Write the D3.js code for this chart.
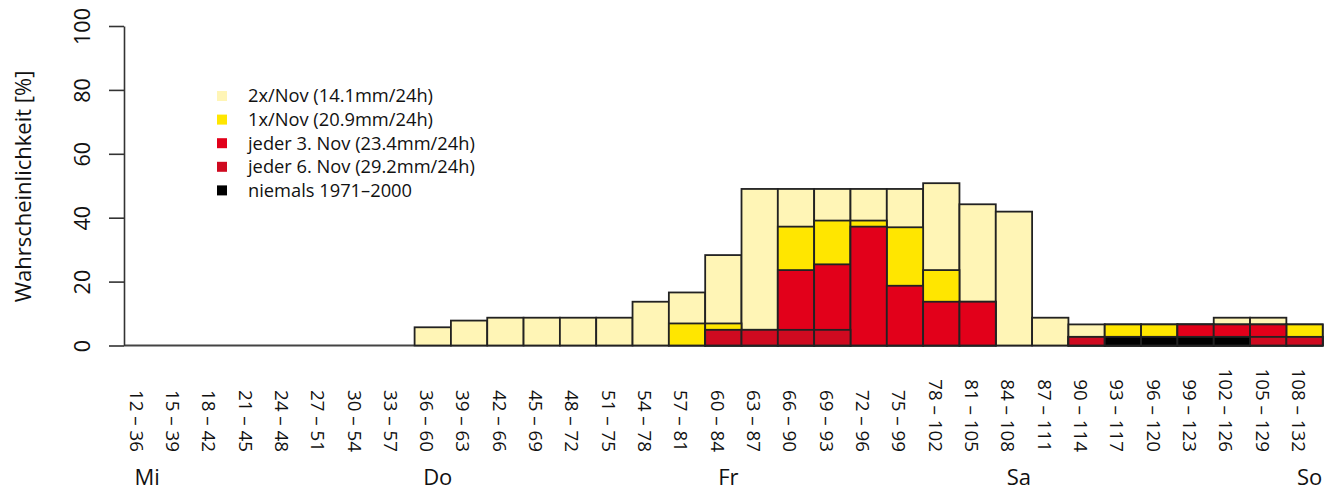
<!DOCTYPE html>
<html>
<head>
<meta charset="utf-8">
<script src="https://cdn.jsdelivr.net/npm/d3@7"></script>
<style>
  html, body { margin: 0; padding: 0; background: #fff; }
  svg { display: block; font-family: "Open Sans", Lato, sans-serif; }
</style>
</head>
<body>
<svg id="chart" width="1336" height="490"></svg>
<script>
// ---- data ----
const categories = ["12 – 36","15 – 39","18 – 42","21 – 45","24 – 48","27 – 51","30 – 54","33 – 57",
  "36 – 60","39 – 63","42 – 66","45 – 69","48 – 72","51 – 75","54 – 78","57 – 81",
  "60 – 84","63 – 87","66 – 90","69 – 93","72 – 96","75 – 99","78 – 102","81 – 105",
  "84 – 108","87 – 111","90 – 114","93 – 117","96 – 120","99 – 123","102 – 126","105 – 129","108 – 132"];

// probability [%] of exceeding each threshold (drawn overlapping, largest first)
const twoPerNov   = [0,0,0,0,0,0,0,0, 5.7,7.8,8.7,8.7,8.7,8.7,13.7,16.6, 28.3,49,49,49,49,49,50.8,44.2, 41.9,8.7,6.6,6.6,6.6,6.6,8.7,8.7,6.6];
const onePerNov   = [0,0,0,0,0,0,0,0, 0,0,0,0,0,0,0,6.9, 6.9,4.9,37.2,39.1,39.1,37.0,23.6,13.7, 0,0,2.7,6.6,6.6,6.6,6.6,6.6,6.6];
const every3rdNov = [0,0,0,0,0,0,0,0, 0,0,0,0,0,0,0,0, 4.9,4.9,23.6,25.4,37.2,18.7,13.7,13.7, 0,0,2.7,2.7,2.7,6.6,6.6,6.6,2.7];
const every6thNov = [0,0,0,0,0,0,0,0, 0,0,0,0,0,0,0,0, 4.9,4.9,4.9,4.9,0,0,0,0, 0,0,2.7,2.7,2.7,2.7,2.7,2.7,2.7];
const never7100   = [0,0,0,0,0,0,0,0, 0,0,0,0,0,0,0,0, 0,0,0,0,0,0,0,0, 0,0,0,2.7,2.7,2.7,2.7,0,0];

const seriesNames = ["2x/Nov (14.1mm/24h)", "1x/Nov (20.9mm/24h)", "jeder 3. Nov (23.4mm/24h)", "jeder 6. Nov (29.2mm/24h)", "niemals 1971–2000"];
const seriesColors = ["#fff5b6", "#ffe600", "#e2001a", "#cf0a20", "#000000"];
const yTicks = [0, 20, 40, 60, 80, 100];
const dayLabels = ["Mi", "Do", "Fr", "Sa", "So"];
const dayAt = ["12 – 36", "36 – 60", "60 – 84", "84 – 108", "108 – 132"];
const yTitle = "Wahrscheinlichkeit [%]";

const seriesValues = [twoPerNov, onePerNov, every3rdNov, every6thNov, never7100];

// ---- layout ----
const svg = d3.select("#chart");
const x = d3.scaleBand().domain(categories).range([124, 1322.7]).padding(0);
const y = d3.scaleLinear().domain([0, 100]).range([345.5, 26]);
const stroke = "#222";

// baseline (zero-height bars)
svg.append("line")
  .attr("x1", x.range()[0]).attr("x2", x.range()[1])
  .attr("y1", y(0)).attr("y2", y(0))
  .attr("stroke", "#444").attr("stroke-width", 2);

// bars
seriesValues.forEach((vals, si) => {
  svg.append("g").selectAll("rect")
    .data(categories.map((c, i) => ({ c, v: vals[i] })).filter(d => d.v > 0))
    .join("rect")
    .attr("x", d => x(d.c))
    .attr("width", x.bandwidth())
    .attr("y", d => y(d.v))
    .attr("height", d => y(0) - y(d.v))
    .attr("fill", seriesColors[si])
    .attr("stroke", stroke)
    .attr("stroke-width", 1.8);
});

// y axis
const yAxis = svg.append("g")
  .attr("transform", `translate(${x.range()[0]},0)`)
  .call(d3.axisLeft(y).tickValues(yTicks).tickSize(15).tickSizeOuter(0));
yAxis.select(".domain").attr("stroke", "#333").attr("stroke-width", 1.6);
yAxis.selectAll(".tick line").attr("stroke", "#333").attr("stroke-width", 1.6);
yAxis.selectAll(".tick text")
  .attr("x", 0).attr("y", -42).attr("dy", "0.36em")
  .attr("text-anchor", "middle")
  .attr("transform", "rotate(-90)")
  .attr("font-size", 21.5).attr("font-family", "'Open Sans', sans-serif")
  .attr("fill", "#111");

svg.append("text")
  .attr("transform", `translate(23,${(70 + 303) / 2}) rotate(-90)`)
  .attr("text-anchor", "middle").attr("dy", "0.35em")
  .attr("font-size", 22).attr("fill", "#111")
  .text(yTitle);

// x labels
svg.append("g").selectAll("text")
  .data(categories)
  .join("text")
  .attr("transform", d => `translate(${x(d) + x.bandwidth() / 2 - 6},452) rotate(90)`)
  .attr("text-anchor", "end").attr("dy", "0.35em")
  .attr("font-size", 18.8).attr("fill", "#111")
  .text(d => d);

// day labels
svg.append("g").selectAll("text")
  .data(dayLabels)
  .join("text")
  .attr("x", (d, i) => x(dayAt[i]) + x.bandwidth() / 2 + 5)
  .attr("y", 485)
  .attr("text-anchor", "middle")
  .attr("font-size", 22).attr("fill", "#111")
  .text(d => d);

// legend
const leg = svg.append("g");
seriesNames.forEach((name, i) => {
  const cy = 96 + i * 23.6;
  leg.append("rect").attr("x", 217).attr("y", cy - 5).attr("width", 10).attr("height", 10)
    .attr("fill", seriesColors[i]);
  leg.append("text").attr("x", 248).attr("y", cy).attr("dy", "0.35em")
    .attr("font-size", 18.3).attr("fill", "#111").text(name);
});
</script>
</body>
</html>
